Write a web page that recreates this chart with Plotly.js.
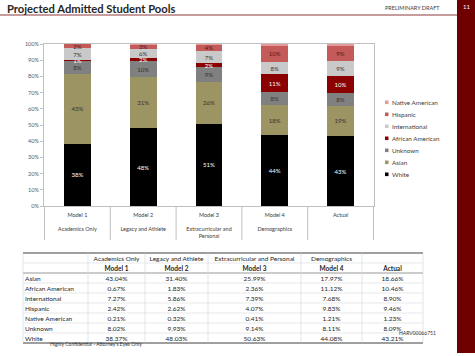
<!DOCTYPE html>
<html>
<head>
<meta charset="utf-8">
<script src="https://cdn.plot.ly/plotly-3.0.1.min.js"></script>
<style>html,body{margin:0;padding:0;background:#fff;}#chart{width:475px;height:356px;}</style>
</head>
<body>
<div id="chart"></div>
<script>
// ---- data ----
const models = ['Model 1', 'Model 2', 'Model 3', 'Model 4', 'Actual'];
const subtitles = ['Academics Only', 'Legacy and Athlete', 'Extracurricular and Personal', 'Demographics', ''];
const axisSubtitles = ['Academics Only', 'Legacy and Athlete', 'Extracurricular and<br>Personal', 'Demographics', ''];
const asian           = [43.04, 31.40, 25.99, 17.97, 18.66];
const africanAmerican = [0.67, 1.83, 2.36, 11.12, 10.46];
const international   = [7.27, 5.86, 7.39, 7.68, 8.90];
const hispanic        = [2.42, 2.62, 4.07, 9.83, 9.46];
const nativeAmerican  = [0.21, 0.32, 0.41, 1.21, 1.23];
const unknown         = [8.02, 9.93, 9.14, 8.11, 8.09];
const white           = [38.37, 48.03, 50.63, 44.08, 43.21];
const yTicks = [0, 10, 20, 30, 40, 50, 60, 70, 80, 90, 100];

// stack order bottom -> top
const stack = [
  {name: 'White', v: white, color: '#000000', tc: '#FFFFFF', label: true},
  {name: 'Asian', v: asian, color: '#9C9462', tc: '#333333', label: true},
  {name: 'Unknown', v: unknown, color: '#808080', tc: '#333333', label: true},
  {name: 'African American', v: africanAmerican, color: '#8B0000', tc: '#FFFFFF', label: true},
  {name: 'International', v: international, color: '#C9C9C9', tc: '#333333', label: true},
  {name: 'Hispanic', v: hispanic, color: '#C45A5A', tc: '#4A1A1A', label: true},
  {name: 'Native American', v: nativeAmerican, color: '#E49A9A', tc: '#333333', label: false}
];
// table row order
const tableRows = [
  ['Asian', asian], ['African American', africanAmerican], ['International', international],
  ['Hispanic', hispanic], ['Native American', nativeAmerican], ['Unknown', unknown], ['White', white]
];

const W = 475, H = 356;
const X = px => px / W;
const Y = px => 1 - px / H;
const FONT = 'Lato, "Open Sans", sans-serif';
const nb = s => s.replace(/ /g, '\u00A0');

const traces = stack.map(s => ({
  type: 'bar', name: s.name, x: models, y: s.v,
  marker: {color: s.color, line: {width: 0}},
  texttemplate: s.label ? '%{y:.0f}%' : '',
  textposition: s.label ? 'inside' : 'none',
  insidetextanchor: 'middle', textangle: 0,
  textfont: {family: FONT, size: 6, color: s.tc},
  hoverinfo: 'skip', showlegend: false, cliponaxis: false
}));

// table geometry (layout only)
const tblLeft = 23, tblTop = 253, rowH = 10;
const colW = [65, 57, 63, 93, 61, 61];
const nRows = 2 + tableRows.length;

const headerVals = [['', '']].concat(models.map((m, i) => [nb(subtitles[i]), nb(m)]));
const cellVals = [tableRows.map(r => nb(r[0]))].concat(models.map((m, j) => tableRows.map(r => r[1][j].toFixed(2) + '%')));
const tblW = colW.reduce((a, b) => a + b, 0);
traces.push({
  type: 'table',
  domain: {x: [X(tblLeft - 6), X(tblLeft + tblW)], y: [Y(355), Y(tblTop - 5)]},
  columnwidth: [colW[0] + 6].concat(colW.slice(1)),
  header: {values: headerVals, height: rowH, align: ['left', 'center'],
    font: {family: FONT, size: 6.5, color: '#262626', weight: headerVals.map(() => [400, 700])},
    line: {color: 'rgba(0,0,0,0)', width: 0}, fill: {color: 'rgba(0,0,0,0)'}},
  cells: {values: cellVals, height: rowH, align: ['left', 'center'],
    font: {family: FONT, size: 6.5, color: '#262626'},
    line: {color: 'rgba(0,0,0,0)', width: 0}, fill: {color: 'rgba(0,0,0,0)'}}
});

const annotations = [];
const shapes = [];
// table rules
for (let k = 0; k <= nRows; k++) {
  const py = tblTop + k * rowH;
  let st = {color: '#D9D9D9', width: 0.6};
  if (k === 0 || k === nRows) st = {color: '#7F7F7F', width: 1.4};
  else if (k === 2) st = {color: '#8C8C8C', width: 0.9};
  shapes.push({type: 'line', xref: 'paper', yref: 'paper', x0: X(tblLeft), x1: X(tblLeft + tblW), y0: Y(py), y1: Y(py), line: st});
}
let cx = tblLeft;
for (let c = 0; c <= colW.length; c++) {
  shapes.push({type: 'line', xref: 'paper', yref: 'paper', x0: X(cx), x1: X(cx), y0: Y(tblTop), y1: Y(tblTop + nRows * rowH),
    line: {color: '#CBD3E1', width: 0.6}});
  if (c < colW.length) cx += colW[c];
}
// slide header
annotations.push({xref: 'paper', yref: 'paper', x: X(5), y: Y(8), xanchor: 'left', yanchor: 'middle',
  text: '<b>Projected Admitted Student Pools</b>', showarrow: false, font: {family: FONT, size: 11.2, color: '#262626'}});
annotations.push({xref: 'paper', yref: 'paper', x: X(383), y: Y(8), xanchor: 'left', yanchor: 'middle',
  text: 'PRELIMINARY DRAFT', showarrow: false, font: {family: FONT, size: 5.5, color: '#404040'}});
shapes.push({type: 'line', xref: 'paper', yref: 'paper', x0: 0, x1: X(457), y0: Y(15), y1: Y(15), line: {color: '#8E3B3B', width: 1.2}});
shapes.push({type: 'rect', xref: 'paper', yref: 'paper', x0: X(457), x1: 1, y0: Y(353), y1: 1, fillcolor: '#6E0000', line: {width: 0}});
annotations.push({xref: 'paper', yref: 'paper', x: X(466), y: Y(7), xanchor: 'center', yanchor: 'middle',
  text: '11', showarrow: false, font: {family: FONT, size: 6, color: '#FFFFFF'}});
// category separators below the x axis
for (let i = 0; i <= models.length; i++) {
  shapes.push({type: 'line', xref: 'x', yref: 'paper', x0: i - 0.5, x1: i - 0.5, y0: Y(206), y1: Y(240),
    line: {color: '#BFBFBF', width: 1}});
}
// legend (custom, compact)
stack.slice().reverse().forEach((s, i) => {
  const cy = 102.3 + i * 12;
  shapes.push({type: 'rect', xref: 'paper', yref: 'paper', x0: X(385), x1: X(388.5), y0: Y(cy + 1.8), y1: Y(cy - 1.8), fillcolor: s.color, line: {width: 0}});
  annotations.push({xref: 'paper', yref: 'paper', x: X(389.5), y: Y(cy), xanchor: 'left', yanchor: 'middle',
    text: s.name, showarrow: false, font: {family: FONT, size: 6.3, color: '#404040'}});
});
// footer notes
annotations.push({xref: 'paper', yref: 'paper', x: X(48), y: Y(344), xanchor: 'left', yanchor: 'middle',
  text: 'Highly Confidential - Attorney\'s Eyes Only', showarrow: false, font: {family: FONT, size: 5, color: '#333333'}});
annotations.push({xref: 'paper', yref: 'paper', x: X(397), y: Y(333), xanchor: 'left', yanchor: 'middle',
  text: 'HARV00066751', showarrow: false, font: {family: FONT, size: 5, color: '#333333'}});

const layout = {
  width: W, height: H, margin: {l: 0, r: 0, t: 0, b: 0},
  paper_bgcolor: '#FFFFFF', plot_bgcolor: '#FFFFFF',
  barmode: 'stack', bargap: 0.59,
  showlegend: false,
  uniformtext: {mode: 'show', minsize: 6},
  font: {family: FONT, color: '#404040'},
  xaxis: {domain: [X(44), X(374)], type: 'category', tickmode: 'array', tickvals: models,
    ticktext: models.map((m, i) => m + '<br><br>' + axisSubtitles[i]),
    ticks: '', ticklabelstandoff: 3,
    showline: true, mirror: true, linecolor: '#BFBFBF', linewidth: 1,
    tickfont: {family: FONT, size: 5.5, color: '#404040'}, fixedrange: true, showgrid: false},
  yaxis: {domain: [Y(206), Y(44)], range: [0, 100], tickmode: 'array', tickvals: yTicks,
    ticktext: yTicks.map(t => t + '%'),
    ticks: 'outside', ticklen: 3, tickcolor: '#BFBFBF',
    showline: true, mirror: true, linecolor: '#BFBFBF', linewidth: 1,
    showgrid: false, zeroline: false,
    tickfont: {family: FONT, size: 5.5, color: '#595959'}, fixedrange: true},
  annotations: annotations, shapes: shapes
};

Plotly.newPlot('chart', traces, layout, {displayModeBar: false, staticPlot: true});
</script>
</body>
</html>
